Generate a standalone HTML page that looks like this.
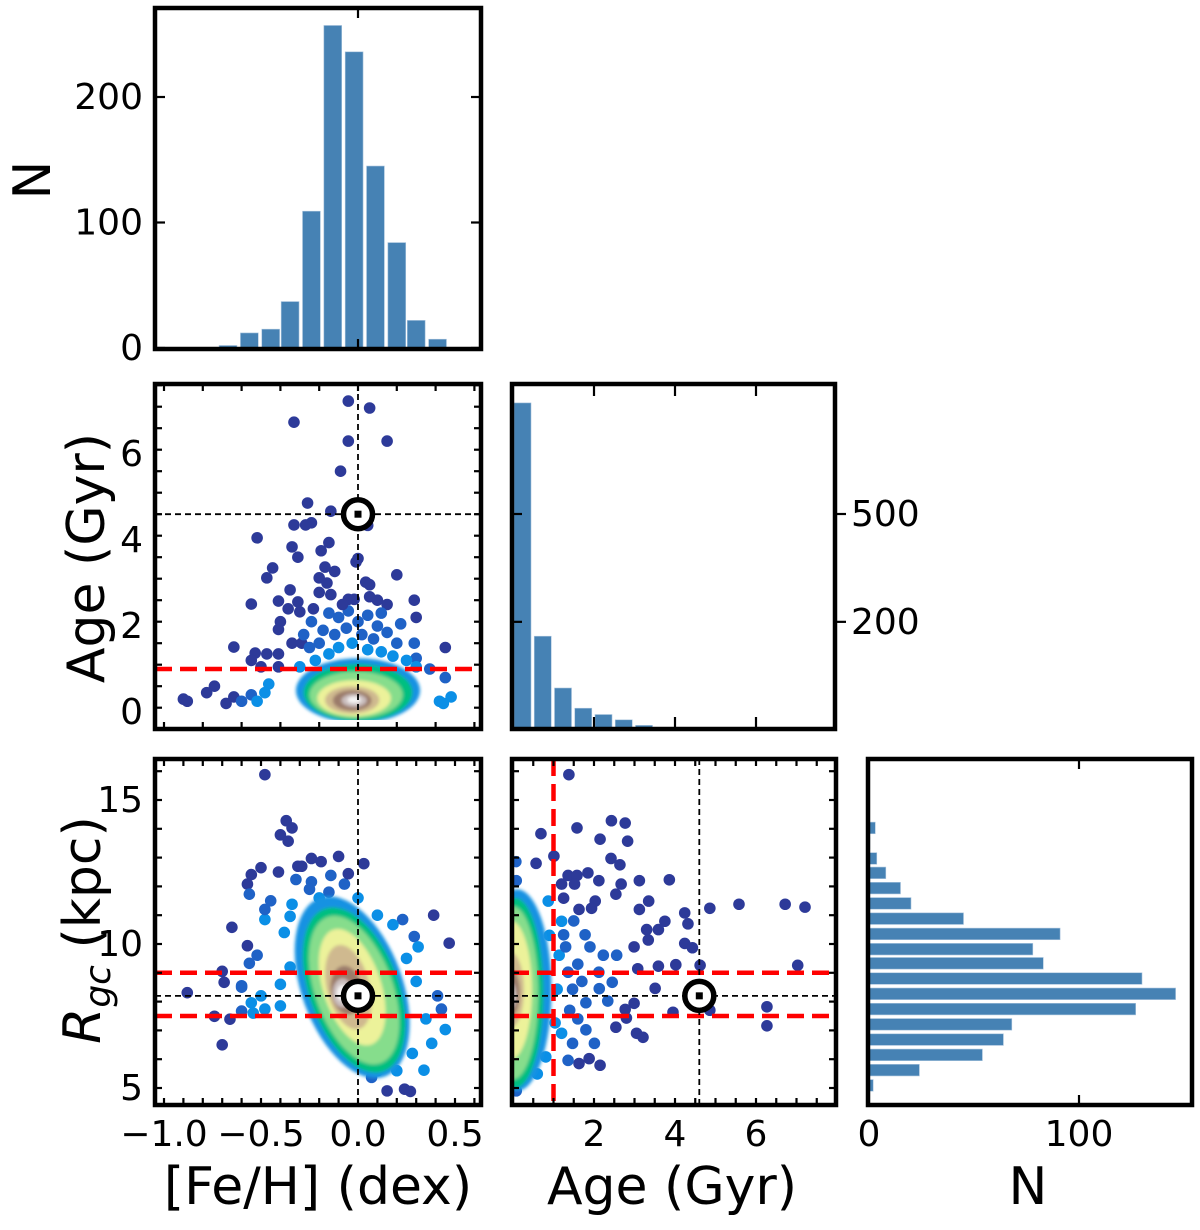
<!DOCTYPE html>
<html><head><meta charset="utf-8">
<style>
html,body{margin:0;padding:0;background:#fff;}
svg{display:block;font-family:"DejaVu Sans","Liberation Sans",sans-serif;}
</style></head>
<body>
<svg id="fig" width="1200" height="1230" viewBox="0 0 1200 1230" xmlns="http://www.w3.org/2000/svg">
<defs>
<clipPath id="c2a"><rect x="155" y="384" width="326" height="345"/></clipPath>
<clipPath id="c2aCore"><rect x="155" y="384" width="326" height="336"/></clipPath>
<clipPath id="c3a"><rect x="155" y="759" width="326" height="346"/></clipPath>
<clipPath id="c3b"><rect x="512" y="759" width="324" height="346"/></clipPath>
<filter id="soft" x="-20%" y="-20%" width="140%" height="140%"><feGaussianBlur stdDeviation="1.5"/></filter>
</defs>
<g id="layer"></g>
</svg>
<script>
// ---------------- data ----------------
var fehBinCenters = [-0.67,-0.56,-0.45,-0.35,-0.24,-0.13,-0.02,0.09,0.20,0.30,0.41];
var fehCounts = [2,12,15,37,109,257,236,145,84,22,7];
var ageBinStarts = [0,0.5,1.0,1.5,2.0,2.5,3.0];
var ageCounts = [1285,177,114,96,91,87,83];
var rBinCenters = [14.03,13.5,12.97,12.47,11.94,11.41,10.88,10.35,9.82,9.33,8.8,8.27,7.74,7.21,6.68,6.15,5.62,5.09];
var rCounts = [3,0.4,3.7,8,15,20,45,91,78,83,130,146,127,68,64,54,24,2];

var afFeh = [-0.05,0.06,-0.33,-0.05,0.15,-0.09,-0.26,-0.14,-0.24,-0.33,-0.27,0.05,-0.52,-0.15,-0.34,-0.19,-0.31,0.0,-0.01,-0.44,-0.47,-0.17,-0.12,-0.2,-0.16,0.04,0.06,0.2,-0.35,-0.2,-0.14,-0.55,-0.41,-0.31,-0.36,-0.3,-0.05,-0.02,0.06,0.15,0.29,0.3,-0.4,-0.41,-0.23,-0.24,-0.64,-0.53,-0.47,-0.41,-0.55,-0.34,-0.29,0.29,0.3,0.45,0.37,0.45,-0.5,-0.41,-0.74,-0.78,-0.9,-0.88,-0.68,-0.64,-0.6,-0.55,-0.46,-0.48,-0.52,0.42,0.48,0.44,
-0.15,-0.1,-0.05,0.0,0.05,0.1,0.12,-0.18,-0.12,-0.06,0.02,0.08,0.15,0.2,-0.2,-0.1,-0.03,0.05,0.12,0.18,-0.15,-0.25,0.22,-0.08,0.1,-0.28,0.25,-0.22,0.3,-0.3];
var afAge = [7.23,7.07,6.74,6.30,6.30,5.6,4.86,4.67,4.4,4.35,4.35,4.34,4.05,3.94,3.84,3.75,3.6,3.57,3.49,3.35,3.12,3.37,3.27,3.12,3.0,3.02,2.96,3.19,2.84,2.78,2.73,2.51,2.58,2.56,2.40,2.33,2.62,2.62,2.68,2.5,2.6,2.2,2.1,1.92,2.4,2.1,1.51,1.37,1.35,1.35,1.2,1.6,1.6,1.6,1.25,1.5,1.0,0.8,1.05,1.05,0.6,0.45,0.3,0.25,0.2,0.35,0.25,0.4,0.65,0.45,0.25,0.25,0.35,0.2,
2.3,2.2,2.35,2.1,2.25,2.0,2.3,1.9,1.8,1.95,1.8,1.7,1.85,1.6,1.6,1.5,1.6,1.45,1.4,1.3,1.35,1.5,2.05,2.5,2.6,1.8,1.2,1.2,1.05,1.05];
var afDens = [0,0,0,0,0,0,0,0,0,0,0,0,0,0,0,0,0,0,0,0,0,0,0,0,0,0,0,0,0,0,0,0,0,0,0,0,0,0,0,0,0,0,0,0,0,1,0,0,0,0,0,0,0,1,1,0,1,1,0,0,0,0,0,0,0,0,1,1,2,2,2,2,2,2,
1,1,1,1,1,1,1,1,1,1,1,1,1,1,1,2,2,2,2,2,2,1,1,0,0,1,2,2,2,2];

var rfFeh = [-0.48,-0.37,-0.34,-0.4,-0.36,-0.5,-0.55,-0.57,-0.56,-0.41,-0.31,-0.29,-0.24,-0.19,-0.1,0.03,-0.32,-0.24,-0.14,-0.07,-0.05,-0.65,-0.57,-0.52,-0.56,-0.70,-0.69,-0.60,-0.60,-0.66,-0.74,-0.88,-0.70,0.39,0.47,0.23,0.29,0.31,0.18,0.41,0.43,0.45,0.38,0.34,0.15,0.24,0.27,0.07,0.1,-0.48,-0.48,-0.45,-0.35,-0.34,-0.55,-0.5,-0.54,-0.48,-0.6,-0.4,
-0.25,-0.15,-0.2,-0.1,0.0,0.1,0.25,0.3,0.35,0.28,0.2,-0.35,-0.4,-0.38];
var rfR = [15.88,14.28,14.03,13.79,13.57,12.65,12.41,12.08,11.73,12.5,12.7,12.7,12.97,12.86,13.04,12.79,12.24,12.16,12.38,12.08,12.44,10.58,9.94,9.61,9.33,9.05,8.67,8.55,7.67,7.39,7.49,8.31,6.5,11.0,10.03,10.85,10.26,9.9,10.67,8.2,7.74,7.03,6.55,5.62,4.9,4.96,4.88,5.37,5.6,10.85,11.2,11.5,10.96,11.38,7.96,8.2,7.6,7.74,8.5,7.85,
11.9,11.8,11.6,11.3,11.6,11.0,9.5,8.7,7.4,6.2,5.6,9.2,8.6,10.4];
var rfDens = [0,0,0,0,0,0,0,0,1,0,0,0,0,0,0,0,1,1,1,1,0,0,0,1,1,0,0,1,1,0,0,0,0,0,0,1,1,2,2,1,1,2,2,2,0,0,0,1,2,2,1,1,2,2,2,2,2,2,1,2,
1,1,2,2,2,2,2,2,2,2,2,2,2,2];

var raAge = [1.38,2.43,2.77,1.58,0.69,2.15,2.83,2.42,2.64,0.57,1.01,0.07,3.12,3.86,2.12,1.36,1.58,1.85,2.67,2.54,1.2,1.52,1.25,2.03,1.94,1.63,4.86,5.58,6.72,7.21,3.35,3.12,4.24,4.32,3.75,3.3,3.59,2.99,3.34,4.24,4.43,3.59,4.02,4.62,7.03,3.08,3.51,3.95,4.86,6.27,6.27,2.54,3.05,3.21,2.99,2.8,1.63,1.88,2.15,1.25,1.78,2.23,2.45,2.13,1.8,2.34,2.77,2.56,2.12,1.36,1.47,1.8,2.01,1.47,1.36,0.87,1.2,1.14,1.09,1.04,0.81,0.6,0.08,0.08,
1.3,1.6,1.4,1.7,1.2,0.9,1.5,1.9,1.6];
var raR = [15.88,14.28,14.2,14.03,13.83,13.64,13.57,12.97,12.75,12.8,13.05,12.86,12.2,12.23,12.2,12.38,12.38,12.47,12.08,11.73,12.08,12.08,11.59,11.49,11.24,11.2,11.24,11.38,11.38,11.28,11.49,11.2,11.08,10.7,10.79,10.5,10.5,9.9,10.14,10.02,9.87,9.23,9.28,9.26,9.26,9.14,8.46,7.63,7.7,7.82,7.16,7.11,6.9,6.76,7.94,7.43,5.85,6.02,5.79,10.32,10.32,9.61,8.67,8.45,7.96,8.02,7.73,9.61,9.02,9.02,8.43,7.02,6.55,6.55,5.96,11.49,10.79,9.61,8.43,7.26,6.08,5.49,12.2,4.9,
9.9,9.3,7.7,8.7,6.9,10.3,10.8,9.9,7.4];
var raDens = [0,0,0,0,0,0,0,0,0,0,0,1,0,0,0,0,0,0,0,0,0,0,0,0,0,0,0,0,0,0,0,0,0,0,0,0,0,0,0,0,0,0,0,0,0,0,0,0,0,0,0,0,0,0,0,0,0,0,0,1,1,1,1,1,1,1,0,1,1,1,1,1,1,1,1,2,2,2,2,2,2,2,1,1,
1,1,1,1,2,2,1,1,1];

var afCoreX = [0.0,0.0,-0.01,-0.02,-0.03,-0.03,-0.02,-0.02];
var afCoreY = [0.5,0.45,0.4,0.32,0.28,0.27,0.27,0.28];
var afCoreW = [0.32,0.28,0.24,0.19,0.14,0.1,0.065,0.035];
var afCoreH = [0.75,0.66,0.54,0.42,0.32,0.24,0.15,0.08];
var rfCoreX = [-0.03,-0.02,-0.02,-0.03,-0.05,-0.06,-0.08,-0.08];
var rfCoreY = [8.5,8.4,8.4,8.5,8.5,8.4,8.3,8.3];
var rfCoreW = [0.26,0.23,0.2,0.15,0.11,0.08,0.05,0.03];
var rfCoreH = [3.3,3.0,2.7,2.1,1.5,0.85,0.5,0.28];
var rfCoreTilt = [-20,-20,-20,-18,-14,-8,0,0];
var raCoreX = [0.1,0.05,0.0,-0.05,-0.05,-0.05,-0.05,-0.05];
var raCoreY = [8.4,8.3,8.3,8.4,8.4,8.3,8.2,8.2];
var raCoreW = [0.85,0.7,0.62,0.52,0.32,0.22,0.13,0.07];
var raCoreH = [3.5,3.3,3.0,2.4,1.3,0.8,0.45,0.22];

var sunFeh = 0.0, sunAge = 4.6, sunR = 8.2;
var cutAge = 1.0, cutRlo = 7.5, cutRhi = 9.0;

var fehTicks = [-1.0,-0.5,0.0,0.5];
var fehTickLabels = ["\u22121.0","\u22120.5","0.0","0.5"];
var ageTicksY = [0,2,4,6];
var ageTicksX = [2,4,6];
var rTicks = [5,10,15];
var nTopTicks = [0,100,200];
var nAgeTicks = [200,500];
var nRTicks = [0,100];

function lin(d0,d1,p0,p1){return function(v){return p0+(v-d0)*(p1-p0)/(d1-d0);};}
var xF = lin(0,0.5,358,455);
var yA = lin(0,6,712,454);
var xA = lin(0,2,513,594);
var yR = lin(10,5,944,1088);
var xN = lin(0,100,869,1079);
var yN = lin(0,200,348,97);
function yNlog(v){return 514-(Math.log10(v)-Math.log10(500))*271;}

var NS="http://www.w3.org/2000/svg";
var root=document.getElementById('layer');
function mk(tag,attrs,parent){var e=document.createElementNS(NS,tag);for(var k in attrs)e.setAttribute(k,attrs[k]);(parent||root).appendChild(e);return e;}
var coreColors=['#1592e2','#00bf80','#86dd8c','#ecf29a','#cfb98f','#9b7b6b','#cbbfbf','#f6f4f4'];
var dotColors=['#2d3a99','#1f62c6','#0b8fe6'];
var BAR='#4682b4';

var g1=mk('g',{});


for(var i=0;i<fehCounts.length;i++){
  var x0=xF(fehBinCenters[i]-0.046), x1=xF(fehBinCenters[i]+0.046);
  var r=mk('rect',{x:x0,y:yN(fehCounts[i]),width:x1-x0,height:yN(0)-yN(fehCounts[i]),fill:BAR,stroke:'#a9c4dd','stroke-width':0.6},g1);
  
  
}
var g2=mk('g',{});


for(var i=0;i<ageCounts.length;i++){
  var x0=xA(ageBinStarts[i])+1, x1=xA(ageBinStarts[i]+0.42)+1;
  var r=mk('rect',{x:x0,y:yNlog(ageCounts[i]),width:x1-x0,height:729-yNlog(ageCounts[i]),fill:BAR,stroke:'#a9c4dd','stroke-width':0.6},g2);
  
  
}
var g3=mk('g',{});


for(var i=0;i<rCounts.length;i++){
  var yc=yR(rBinCenters[i]);
  var r=mk('rect',{x:xN(0),y:yc-5.8,width:xN(rCounts[i])-xN(0),height:11.6,fill:BAR,stroke:'#a9c4dd','stroke-width':0.6},g3);
  
  
}

function core(gp,xs,ys,ws,hs,tilts,sx,sy){
  var g=mk('g',{filter:'url(#soft)'},gp);
  for(var i=0;i<xs.length;i++){
    var cx=sx(xs[i]),cy=sy(ys[i]);
    var rx=Math.abs(sx(xs[i]+ws[i])-cx), ry=Math.abs(sy(ys[i]+hs[i])-cy);
    var t=tilts?tilts[i]:0;
    var e=mk('ellipse',{cx:cx,cy:cy,rx:rx,ry:ry,fill:coreColors[i],transform:'rotate('+t+' '+cx+' '+cy+')'},g);
    
    
  }
}
function dots(gp,xs,ys,ds,sx,sy){
  for(var i=0;i<xs.length;i++){
    var c=mk('circle',{cx:sx(xs[i]),cy:sy(ys[i]),r:5.8,fill:dotColors[ds[i]]},gp);
    
    
  }
}
function sun(cx,cy,parent){
  var s=mk('g',{},parent);
  
  
  mk('circle',{cx:cx,cy:cy,r:14.5,fill:'#fff',stroke:'#000','stroke-width':5.5},s);
  mk('rect',{x:cx-3.5,y:cy-3.5,width:7,height:7,fill:'#000'},s);
}
function dash(x1,y1,x2,y2,red,parent,name){
  var l=mk('line',{x1:x1,y1:y1,x2:x2,y2:y2,stroke:red?'#ff0000':'#000','stroke-width':red?4.5:1.8,'stroke-dasharray':red?'17,8':'6,4'},parent);
  
  
}

var pA=mk('g',{'clip-path':'url(#c2a)'});


var pAc=mk('g',{'clip-path':'url(#c2aCore)'},pA);
dots(pA,afFeh,afAge,afDens,xF,yA);
core(pAc,afCoreX,afCoreY,afCoreW,afCoreH,null,xF,yA);
dash(155,yA(cutAge),481,yA(cutAge),true,pA,'age-cut-line');
dash(xF(sunFeh),384,xF(sunFeh),729,false,pA,'solar-feh-line');
dash(155,yA(sunAge),481,yA(sunAge),false,pA,'solar-age-line');
sun(xF(sunFeh),yA(sunAge),pA);

var pB=mk('g',{'clip-path':'url(#c3a)'});


dots(pB,rfFeh,rfR,rfDens,xF,yR);
core(pB,rfCoreX,rfCoreY,rfCoreW,rfCoreH,rfCoreTilt,xF,yR);
dash(155,yR(cutRhi),481,yR(cutRhi),true,pB,'rgc-upper-cut');
dash(155,yR(cutRlo),481,yR(cutRlo),true,pB,'rgc-lower-cut');
dash(xF(sunFeh),759,xF(sunFeh),1105,false,pB,'solar-feh-line');
dash(155,yR(sunR),481,yR(sunR),false,pB,'solar-rgc-line');
sun(xF(sunFeh),yR(sunR),pB);

var pC=mk('g',{'clip-path':'url(#c3b)'});


dots(pC,raAge,raR,raDens,xA,yR);
core(pC,raCoreX,raCoreY,raCoreW,raCoreH,null,xA,yR);
dash(512,yR(cutRhi),836,yR(cutRhi),true,pC,'rgc-upper-cut');
dash(512,yR(cutRlo),836,yR(cutRlo),true,pC,'rgc-lower-cut');
dash(xA(cutAge),759,xA(cutAge),1105,true,pC,'age-cut-line');
dash(xA(sunAge),759,xA(sunAge),1105,false,pC,'solar-age-line');
dash(512,yR(sunR),836,yR(sunR),false,pC,'solar-rgc-line');
sun(xA(sunAge),yR(sunR),pC);

function tl(x1,y1,x2,y2,w){mk('line',{x1:x1,y1:y1,x2:x2,y2:y2,stroke:'#000','stroke-width':w||2.2});}
function frame(x0,y0,x1,y1,name){
  var f=mk('rect',{x:x0,y:y0,width:x1-x0,height:y1-y0,fill:'none',stroke:'#000','stroke-width':4.5});
  
  
}
function xt(vals,sx,y0,y1,len){vals.forEach(function(v){var x=sx(v);tl(x,y0,x,y0+len);tl(x,y1,x,y1-len);});}
function yt(vals,sy,x0,x1,len){vals.forEach(function(v){var y=sy(v);tl(x0,y,x0+len,y);tl(x1,y,x1-len,y);});}
function range(a,b,s){var o=[];for(var v=a;v<=b+1e-9;v+=s)o.push(Math.round(v*1000)/1000);return o;}

xt([0],xF,8,349,10); yt(nTopTicks,yN,155,481,10);
frame(155,8,481,349,'feh-hist-frame');
xt(range(-1.0,0.6,0.2),xF,384,729,7); yt(range(-0.4,7.6,0.5),yA,155,481,7);
frame(155,384,481,729,'age-feh-frame');
xt(ageTicksX,xA,384,729,12);
nAgeTicks.forEach(function(v){var y=yNlog(v);tl(512,y,522,y);tl(835,y,846,y);});
frame(512,384,835,729,'age-hist-frame');
xt(range(-1.0,0.6,0.1),xF,759,1105,7); yt(range(5,16,1),yR,155,481,7);
frame(155,759,481,1105,'rgc-feh-frame');
xt(range(0.5,7.5,0.5),xA,759,1105,7); yt(range(5,16,1),yR,512,836,7);
frame(512,759,836,1105,'rgc-age-frame');
xt([100],xN,759,1105,10);
frame(868,759,1192,1105,'rgc-hist-frame');

function txt(s,x,y,size,anchor,name,rot){
  var a={x:x,y:y,'font-size':size,'text-anchor':anchor||'middle',fill:'#000'};
  if(rot)a.transform='rotate(-90 '+x+' '+y+')';
  var t=mk('text',a);t.textContent=s;
  
  
  return t;
}
nTopTicks.forEach(function(v){txt(String(v),143,yN(v)+12,36,'end','y-tick-label');});
ageTicksY.forEach(function(v){txt(String(v),143,yA(v)+12,36,'end','y-tick-label');});
rTicks.forEach(function(v){txt(String(v),143,yR(v)+12,36,'end','y-tick-label');});
nAgeTicks.forEach(function(v){txt(String(v),851,yNlog(v)+12,36,'start','y-tick-label');});
fehTicks.forEach(function(v,i){txt(fehTickLabels[i],xF(v),1146,36,'middle','x-tick-label');});
ageTicksX.forEach(function(v){txt(String(v),xA(v),1146,36,'middle','x-tick-label');});
nRTicks.forEach(function(v){txt(String(v),xN(v),1146,36,'middle','x-tick-label');});
txt('[Fe/H] (dex)',318,1204,52,'middle','x-axis-title-feh');
txt('Age (Gyr)',672,1204,52,'middle','x-axis-title-age');
txt('N',1028,1204,52,'middle','x-axis-title-n');
txt('N',50,180,52,'middle','y-axis-title-n',true);
txt('Age (Gyr)',104,558,52,'middle','y-axis-title-age',true);
var rt=txt('',100,930,52,'middle','y-axis-title-rgc',true);
var t1=document.createElementNS(NS,'tspan');t1.setAttribute('font-style','italic');t1.textContent='R';rt.appendChild(t1);
var t2=document.createElementNS(NS,'tspan');t2.setAttribute('font-style','italic');t2.setAttribute('font-size','36');t2.setAttribute('dy','10');t2.textContent='gc';rt.appendChild(t2);
var t3=document.createElementNS(NS,'tspan');t3.setAttribute('dy','-10');t3.textContent=' (kpc)';rt.appendChild(t3);
</script>
</body></html>
